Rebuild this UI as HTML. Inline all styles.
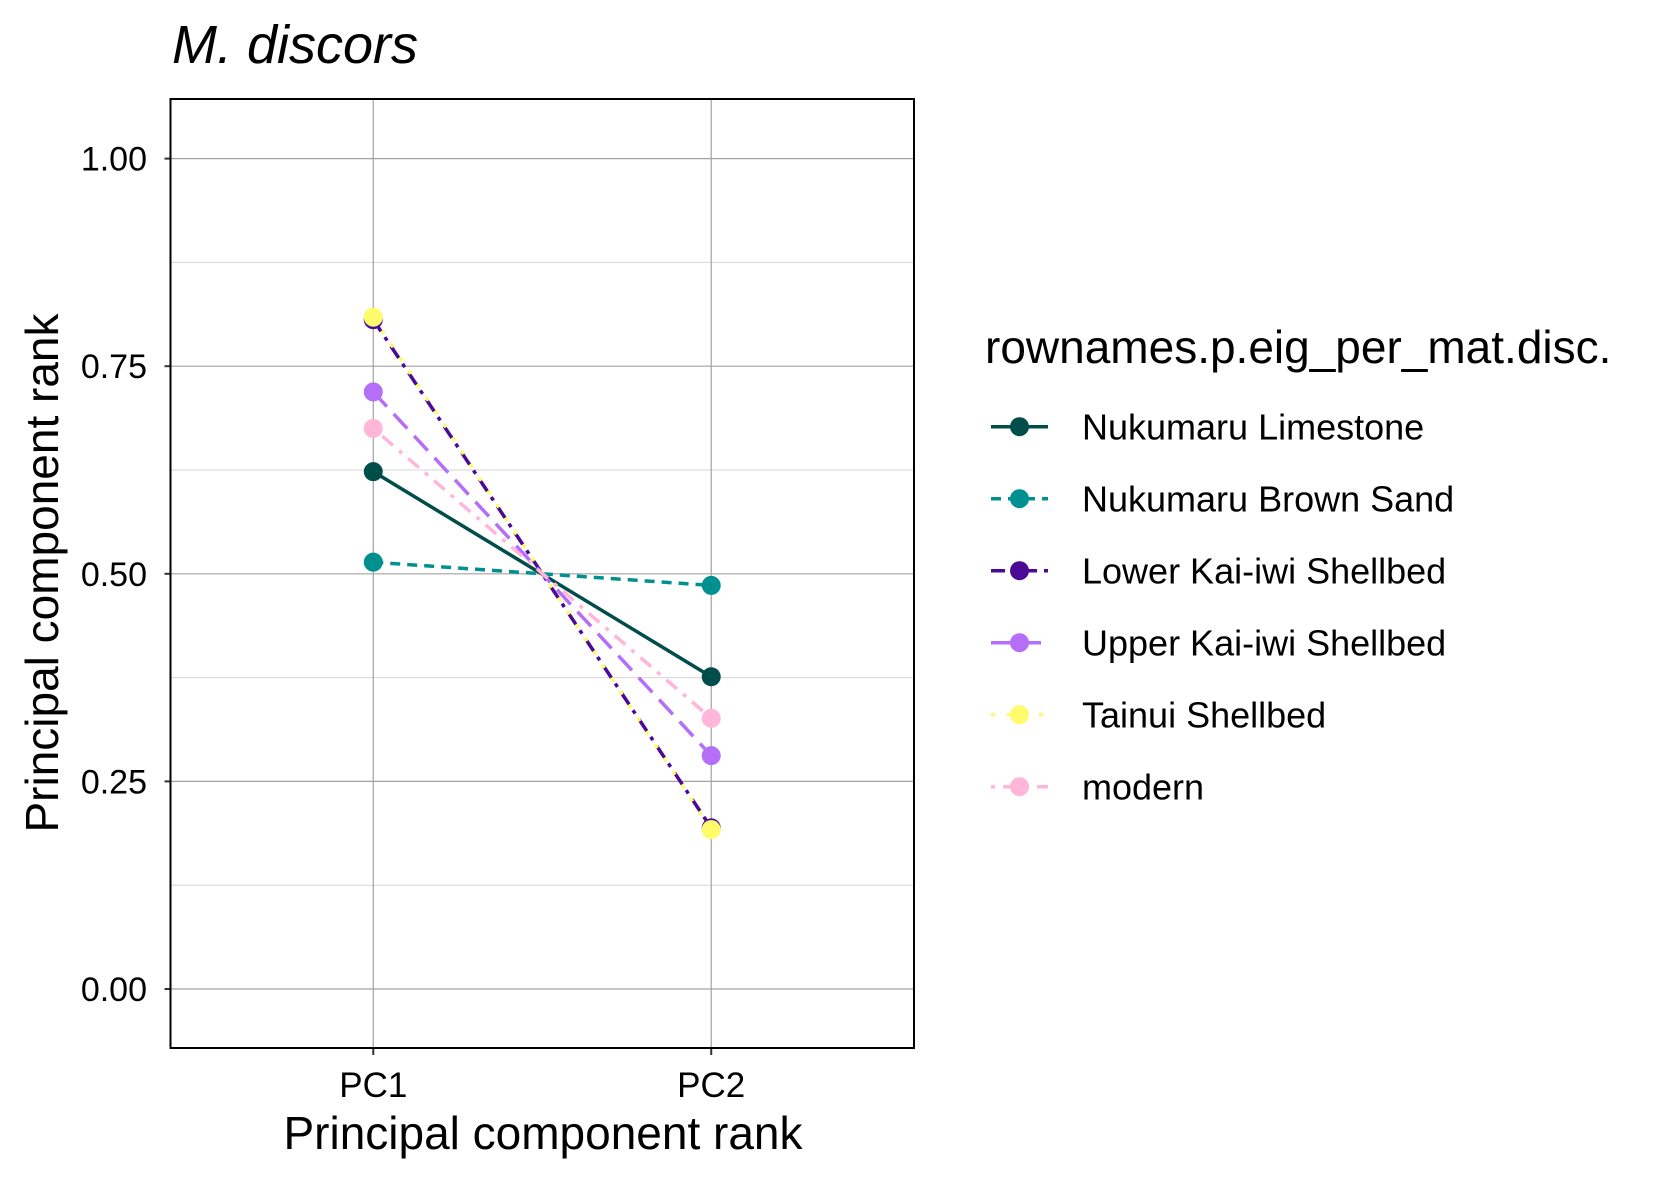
<!DOCTYPE html>
<html><head><meta charset="utf-8"><style>
html,body{margin:0;padding:0;background:#fff;}
svg text{font-family:"Liberation Sans",sans-serif;fill:#000;}
</style></head><body>
<svg id="chart" width="1653" height="1181" viewBox="0 0 1653 1181" xmlns="http://www.w3.org/2000/svg">
<rect width="1653" height="1181" fill="#fff"/>
<text x="172" y="63" font-size="54" font-style="italic">M. discors</text>
<g id="grid"></g>
<g id="ticks"></g>
<g id="lines"></g>
<rect x="170.5" y="99" width="743.5" height="949" fill="none" stroke="#000" stroke-width="2"/>
<text x="543" y="1149" font-size="46" text-anchor="middle">Principal component rank</text>
<text transform="translate(58,573) rotate(-90)" font-size="46" text-anchor="middle">Principal component rank</text>
<text x="985" y="363" font-size="46">rownames.p.eig_per_mat.disc.</text>
<g id="legend"></g>
</svg>
<script>
const categories = ["PC1","PC2"];
const seriesNames = ["Nukumaru Limestone","Nukumaru Brown Sand","Lower Kai-iwi Shellbed","Upper Kai-iwi Shellbed","Tainui Shellbed","modern"];
const nukumaruLimestone = [0.623, 0.376];
const nukumaruBrownSand = [0.514, 0.486];
const lowerKaiiwi = [0.806, 0.194];
const upperKaiiwi = [0.719, 0.281];
const tainui = [0.809, 0.192];
const modern = [0.675, 0.326];
const yTicks = [0, 0.25, 0.5, 0.75, 1.0];
const yTickLabels = ["0.00","0.25","0.50","0.75","1.00"];

const seriesValues = [nukumaruLimestone, nukumaruBrownSand, lowerKaiiwi, upperKaiiwi, tainui, modern];
const colors = ["#004d4a","#009090","#4a0a96","#b56ef8","#fffb6a","#ffb6d9"];
const dashes = ["", "10 7", "14 7 4 7", "20 10", "4 12", "4 8 14 8"];
const NS = "http://www.w3.org/2000/svg";
const L = 170.5, R = 914, T = 99, B = 1048;
function xScale(i){ return L + (i + 0.6) / (categories.length - 1 + 1.2) * (R - L); }
function yScale(v){ return 989 - v * 830.4; }
function mk(tag, attrs, parent){ const e = document.createElementNS(NS, tag); for (const k in attrs) e.setAttribute(k, attrs[k]); parent.appendChild(e); return e; }
const grid = document.getElementById('grid'), ticks = document.getElementById('ticks'), lines = document.getElementById('lines'), legend = document.getElementById('legend');
for (let k = 0; k < yTicks.length - 1; k++) {
  const y = yScale((yTicks[k] + yTicks[k+1]) / 2);
  const g = mk('line', {x1:L, x2:R, y1:y, y2:y, stroke:'#d6d6d6', 'stroke-width':1}, grid);
  
  
}
yTicks.forEach((v, k) => {
  const y = yScale(v);
  const g = mk('line', {x1:L, x2:R, y1:y, y2:y, stroke:'#a3a3a3', 'stroke-width':1.2}, grid);
  
  
  const t = mk('line', {x1:L-6, x2:L, y1:y, y2:y, stroke:'#333', 'stroke-width':2}, ticks);
  
  
  const tx = mk('text', {x:147, y:y+12, 'font-size':34, 'text-anchor':'end'}, ticks);
  tx.textContent = yTickLabels[k];
  
  
});
categories.forEach((c, i) => {
  const x = xScale(i);
  const g = mk('line', {x1:x, x2:x, y1:T, y2:B, stroke:'#a3a3a3', 'stroke-width':1.2}, grid);
  
  
  const t = mk('line', {x1:x, x2:x, y1:B, y2:B+7, stroke:'#333', 'stroke-width':2}, ticks);
  
  
  const tx = mk('text', {x:x, y:1097, 'font-size':35, 'text-anchor':'middle'}, ticks);
  tx.textContent = c;
  
  
});
seriesValues.forEach((vals, s) => {
  const pts = vals.map((v, i) => xScale(i) + ',' + yScale(v)).join(' ');
  const pl = mk('polyline', {points:pts, fill:'none', stroke:colors[s], 'stroke-width':3.5}, lines);
  if (dashes[s]) pl.setAttribute('stroke-dasharray', dashes[s]);
  
  
});
seriesValues.forEach((vals, s) => {
  vals.forEach((v, i) => {
    const c = mk('circle', {cx:xScale(i), cy:yScale(v), r:9.5, fill:colors[s]}, lines);
    
    
  });
});
seriesNames.forEach((n, s) => {
  const y = 426.7 + s * 72;
  const l = mk('line', {x1:991, x2:1048, y1:y, y2:y, stroke:colors[s], 'stroke-width':3.5}, legend);
  if (dashes[s]) l.setAttribute('stroke-dasharray', dashes[s]);
  
  
  const c = mk('circle', {cx:1019.5, cy:y, r:9.5, fill:colors[s]}, legend);
  
  
  const t = mk('text', {x:1082, y:y+13, 'font-size':36}, legend);
  t.textContent = n;
  
  
});
</script>
</body></html>
